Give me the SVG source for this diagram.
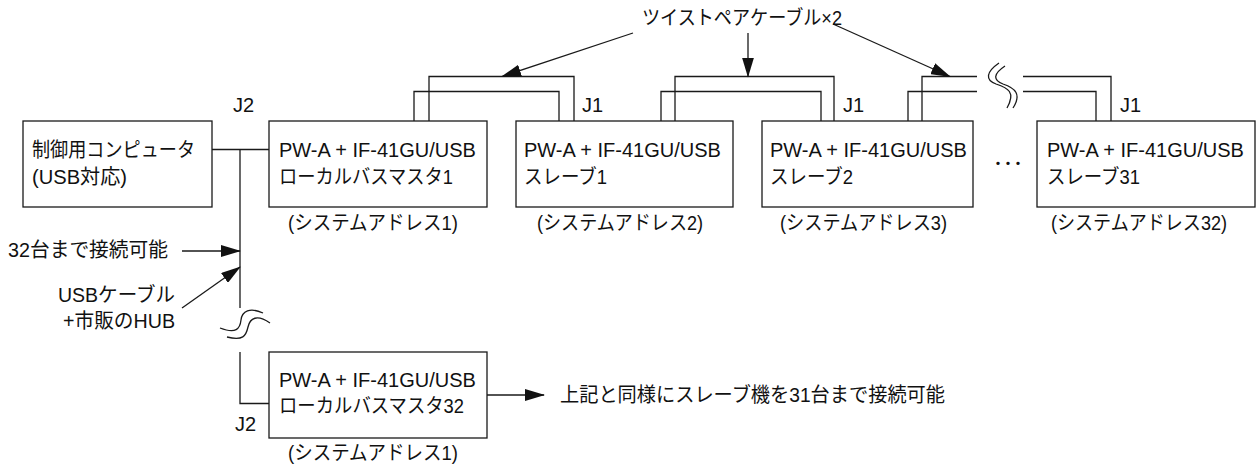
<svg xmlns="http://www.w3.org/2000/svg" width="1258" height="465" viewBox="0 0 1258 465">
<style>
  text { font-family: "Liberation Sans", "Noto Sans CJK JP", sans-serif; font-size: 20px; fill: #111; }
  .box { fill: #fff; stroke: #1a1a1a; stroke-width: 1.3; }
  .ln { fill: none; stroke: #1a1a1a; stroke-width: 1.3; }
  .arr { fill: none; stroke: #1a1a1a; stroke-width: 1.3; marker-end: url(#ah); }
</style>
<defs>
  <marker id="ah" markerUnits="userSpaceOnUse" markerWidth="20" markerHeight="12" refX="19" refY="6" orient="auto">
    <path d="M0,0 L20,6 L0,12 z" fill="#111"/>
  </marker>
</defs>
<rect width="1258" height="465" fill="#fff"/>

<g id="connectors">
  <!-- USB bus -->
  <path class="ln" d="M212,149.5 H269"/>
  <path class="ln" d="M240,149.5 V308"/>
  <path class="ln" d="M240,352 V403.5 H269"/>
  <path class="ln" d="M220,328 C236,334 240,329 241,320 C242,311 250,307 263,313"/>
  <path class="ln" d="M227,337 C243,341 246,336 248,327 C250,318 257,314 270,323"/>
  <!-- twisted pair 1 -->
  <path class="ln" d="M429,121 V76.5 H574 V121"/>
  <path class="ln" d="M414,121 V91.5 H559 V121"/>
  <!-- twisted pair 2 -->
  <path class="ln" d="M675,121 V76.5 H834 V121"/>
  <path class="ln" d="M661,121 V91.5 H821 V121"/>
  <!-- twisted pair 3 with break -->
  <path class="ln" d="M922,121 V76.5 H977"/>
  <path class="ln" d="M908,121 V91.5 H977"/>
  <path class="ln" d="M1023,76.5 H1111 V121"/>
  <path class="ln" d="M1023,91.5 H1096 V121"/>
  <path class="ln" d="M999,63 C986,72 985,80 996,84 C1008,88 1016,92 1007,108"/>
  <path class="ln" d="M1005,66 C993,74 993,80 1003,84 C1015,88 1022,94 1013,108"/>
  <!-- annotation arrows -->
  <path class="arr" d="M633,33 L502,76.5"/>
  <path class="arr" d="M748,33 L748,76.5"/>
  <path class="arr" d="M833,24 L950,76.5"/>
  <path class="arr" d="M182,251 L240,251"/>
  <path class="arr" d="M182,308 L240,267"/>
  <path class="arr" d="M487,395 L544,395"/>
</g>

<g id="computer">
  <rect class="box" x="23" y="121" width="189" height="86"/>
  <text x="32" y="157" textLength="163" lengthAdjust="spacingAndGlyphs">制御用コンピュータ</text>
  <text x="32" y="184" textLength="95" lengthAdjust="spacingAndGlyphs">(USB対応)</text>
</g>

<g id="master1">
  <rect class="box" x="269" y="121" width="218" height="86"/>
  <text x="279" y="157">PW-A + IF-41GU/USB</text>
  <text x="279" y="184" textLength="174" lengthAdjust="spacingAndGlyphs">ローカルバスマスタ1</text>
  <text x="288" y="230" textLength="170" lengthAdjust="spacingAndGlyphs">(システムアドレス1)</text>
  <text x="233" y="112">J2</text>
</g>

<g id="slave1">
  <rect class="box" x="516" y="121" width="217" height="86"/>
  <text x="524" y="157">PW-A + IF-41GU/USB</text>
  <text x="524" y="184" textLength="83" lengthAdjust="spacingAndGlyphs">スレーブ1</text>
  <text x="537" y="230" textLength="166" lengthAdjust="spacingAndGlyphs">(システムアドレス2)</text>
  <text x="582" y="112">J1</text>
</g>

<g id="slave2">
  <rect class="box" x="762" y="121" width="211" height="86"/>
  <text x="770" y="157">PW-A + IF-41GU/USB</text>
  <text x="770" y="184" textLength="83" lengthAdjust="spacingAndGlyphs">スレーブ2</text>
  <text x="780" y="230" textLength="167" lengthAdjust="spacingAndGlyphs">(システムアドレス3)</text>
  <text x="843" y="112">J1</text>
</g>

<g id="ellipsis">
  <text x="993" y="171">･･･</text>
</g>

<g id="slave31">
  <rect class="box" x="1037" y="121" width="218" height="86"/>
  <text x="1047" y="157">PW-A + IF-41GU/USB</text>
  <text x="1047" y="184" textLength="93" lengthAdjust="spacingAndGlyphs">スレーブ31</text>
  <text x="1051" y="230" textLength="176" lengthAdjust="spacingAndGlyphs">(システムアドレス32)</text>
  <text x="1120" y="112">J1</text>
</g>

<g id="master32">
  <rect class="box" x="269" y="352" width="218" height="86"/>
  <text x="279" y="387">PW-A + IF-41GU/USB</text>
  <text x="279" y="413" textLength="185" lengthAdjust="spacingAndGlyphs">ローカルバスマスタ32</text>
  <text x="288" y="460" textLength="170" lengthAdjust="spacingAndGlyphs">(システムアドレス1)</text>
  <text x="235" y="431">J2</text>
</g>

<g id="labels">
  <text x="642" y="25" textLength="200" lengthAdjust="spacingAndGlyphs">ツイストペアケーブル×2</text>
  <text x="8" y="257" textLength="160" lengthAdjust="spacingAndGlyphs">32台まで接続可能</text>
  <text x="58" y="302" textLength="117" lengthAdjust="spacingAndGlyphs">USBケーブル</text>
  <text x="63" y="328" textLength="112" lengthAdjust="spacingAndGlyphs">+市販のHUB</text>
  <text x="560" y="402" textLength="385" lengthAdjust="spacingAndGlyphs">上記と同様にスレーブ機を31台まで接続可能</text>
</g>
</svg>
